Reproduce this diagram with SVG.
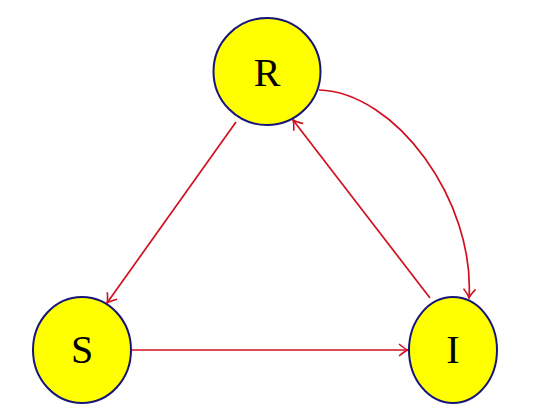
<svg xmlns="http://www.w3.org/2000/svg" width="540" height="418" viewBox="0 0 540 418">
<style>
.node{fill:#ffff00;stroke:#15157a;stroke-width:2}
.lbl{font-family:"Liberation Serif","DejaVu Serif",serif;font-size:40px;fill:#000;text-anchor:middle}
.edge{fill:none;stroke:#d01020;stroke-width:1.7;marker-end:url(#arr)}
</style>
<defs>
<marker id="arr" markerUnits="userSpaceOnUse" viewBox="-12 -8 14 16" markerWidth="14" markerHeight="16" refX="0" refY="0" orient="auto">
<path d="M-9,-6 Q-3,-1 0,0 Q-3,1 -9,6" fill="none" stroke="#d01020" stroke-width="1.6"/>
</marker>
</defs>
<rect width="540" height="418" fill="#fff"/>
<g id="edges">
<path class="edge" d="M236,122 L107,303"/>
<path class="edge" d="M131,350 L408,350"/>
<path class="edge" d="M430,298 L293,120"/>
<path class="edge" d="M319,90 C395,92 475,200 469,298"/>
</g>
<g id="R"><ellipse class="node" cx="267" cy="71.5" rx="53.5" ry="53.5"/><text class="lbl" x="267" y="86">R</text></g>
<g id="S"><ellipse class="node" cx="82" cy="350" rx="49" ry="53"/><text class="lbl" x="82" y="363">S</text></g>
<g id="I"><ellipse class="node" cx="453" cy="350" rx="44" ry="53"/><text class="lbl" x="453" y="363">I</text></g>
</svg>
